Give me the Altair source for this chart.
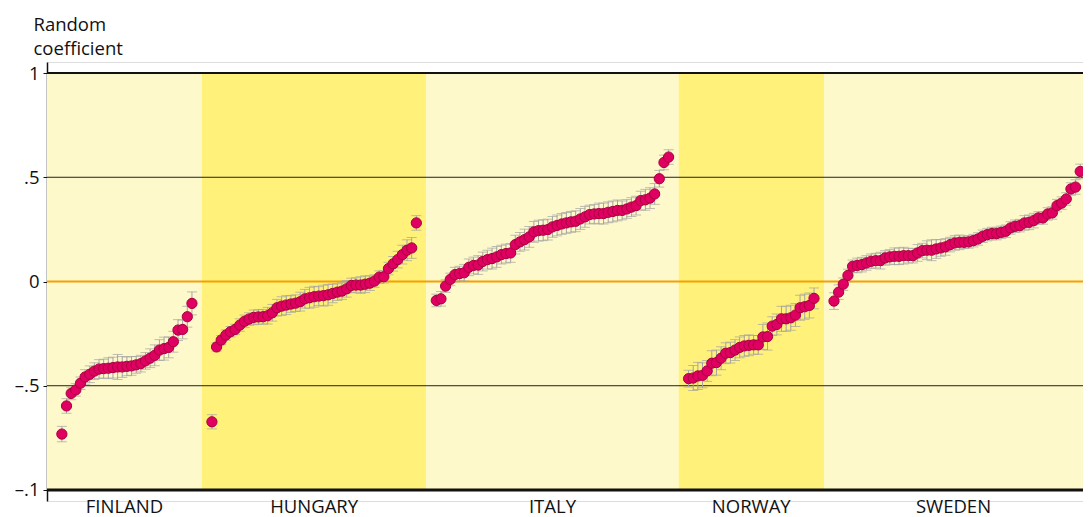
import altair as alt
import pandas as pd

countries = ["FINLAND", "HUNGARY", "ITALY", "NORWAY", "SWEDEN"]
shades = ["light", "dark", "light", "dark", "light"]

finland_est = [-0.732, -0.597, -0.537, -0.52, -0.488, -0.458, -0.445, -0.43, -0.42, -0.418,
               -0.416, -0.413, -0.41, -0.41, -0.407, -0.405, -0.40, -0.394, -0.381, -0.368,
               -0.354, -0.329, -0.322, -0.316, -0.289, -0.233, -0.23, -0.169, -0.105]
finland_err = [0.037, 0.035, 0.03, 0.03, 0.03, 0.035, 0.04, 0.04, 0.045, 0.045,
               0.05, 0.05, 0.06, 0.05, 0.045, 0.045, 0.04, 0.04, 0.04, 0.045,
               0.05, 0.05, 0.055, 0.05, 0.05, 0.05, 0.045, 0.05, 0.055]

hungary_est = [-0.673, -0.314, -0.281, -0.257, -0.241, -0.23, -0.209, -0.191, -0.18, -0.172,
               -0.17, -0.169, -0.164, -0.15, -0.126, -0.118, -0.113, -0.108, -0.104, -0.097,
               -0.083, -0.078, -0.073, -0.070, -0.068, -0.064, -0.057, -0.051, -0.046, -0.035,
               -0.019, -0.017, -0.017, -0.013, -0.008, 0.002, 0.021, 0.023, 0.062, 0.085,
               0.105, 0.129, 0.15, 0.161, 0.281]
hungary_err = [0.034, 0.02, 0.022, 0.025, 0.025, 0.025, 0.03, 0.03, 0.03, 0.035,
               0.035, 0.035, 0.04, 0.04, 0.04, 0.045, 0.045, 0.04, 0.04, 0.045,
               0.045, 0.05, 0.05, 0.045, 0.05, 0.05, 0.045, 0.04, 0.04, 0.04,
               0.035, 0.035, 0.04, 0.04, 0.035, 0.03, 0.03, 0.03, 0.03, 0.035,
               0.04, 0.045, 0.05, 0.05, 0.035]

italy_est = [-0.091, -0.083, -0.022, 0.01, 0.033, 0.038, 0.042, 0.068, 0.077, 0.079,
             0.096, 0.105, 0.11, 0.118, 0.129, 0.134, 0.137, 0.177, 0.19, 0.201,
             0.214, 0.238, 0.244, 0.246, 0.249, 0.262, 0.269, 0.276, 0.281, 0.286,
             0.289, 0.30, 0.31, 0.321, 0.324, 0.326, 0.326, 0.332, 0.336, 0.341,
             0.341, 0.348, 0.357, 0.364, 0.388, 0.392, 0.40, 0.42, 0.493, 0.571, 0.597]
italy_err = [0.03, 0.035, 0.03, 0.03, 0.035, 0.035, 0.04, 0.04, 0.04, 0.045,
             0.045, 0.045, 0.05, 0.05, 0.045, 0.045, 0.045, 0.045, 0.045, 0.05,
             0.05, 0.05, 0.05, 0.05, 0.05, 0.05, 0.05, 0.05, 0.05, 0.05,
             0.05, 0.05, 0.05, 0.045, 0.045, 0.05, 0.05, 0.05, 0.05, 0.05,
             0.045, 0.045, 0.045, 0.045, 0.045, 0.05, 0.05, 0.05, 0.04, 0.035, 0.035]

norway_est = [-0.466, -0.463, -0.453, -0.45, -0.429, -0.392, -0.389, -0.368, -0.344, -0.341,
              -0.329, -0.316, -0.309, -0.306, -0.304, -0.304, -0.266, -0.264, -0.214, -0.206,
              -0.179, -0.179, -0.174, -0.161, -0.126, -0.121, -0.115, -0.081]
norway_err = [0.04, 0.06, 0.065, 0.06, 0.05, 0.06, 0.06, 0.055, 0.05, 0.05,
              0.05, 0.05, 0.05, 0.05, 0.045, 0.045, 0.06, 0.065, 0.045, 0.05,
              0.06, 0.06, 0.06, 0.055, 0.06, 0.06, 0.06, 0.05]

sweden_est = [-0.094, -0.051, -0.013, 0.029, 0.073, 0.077, 0.081, 0.089, 0.097, 0.10,
              0.10, 0.113, 0.118, 0.121, 0.121, 0.124, 0.124, 0.124, 0.137, 0.148,
              0.15, 0.15, 0.156, 0.161, 0.166, 0.177, 0.185, 0.188, 0.188, 0.19,
              0.196, 0.204, 0.217, 0.225, 0.23, 0.23, 0.236, 0.241, 0.257, 0.265,
              0.268, 0.281, 0.284, 0.292, 0.305, 0.305, 0.324, 0.329, 0.364, 0.376,
              0.396, 0.444, 0.453, 0.528]
sweden_err = [0.04, 0.035, 0.03, 0.03, 0.03, 0.035, 0.035, 0.035, 0.035, 0.035,
              0.04, 0.035, 0.035, 0.04, 0.04, 0.04, 0.035, 0.035, 0.04, 0.035,
              0.045, 0.05, 0.045, 0.04, 0.04, 0.035, 0.035, 0.035, 0.03, 0.03,
              0.03, 0.03, 0.03, 0.03, 0.03, 0.03, 0.03, 0.03, 0.03, 0.03,
              0.03, 0.035, 0.035, 0.035, 0.03, 0.03, 0.03, 0.03, 0.03, 0.03,
              0.03, 0.03, 0.035, 0.035]

y_ticks = [-1, -0.5, 0, 0.5, 1]
y_tick_labels = ["\u2013.1", "\u2013.5", "0", ".5", "1"]

est_lists = [finland_est, hungary_est, italy_est, norway_est, sweden_est]
err_lists = [finland_err, hungary_err, italy_err, norway_err, sweden_err]

GAP = 4.3
LEFT_PAD = 3.2
RIGHT_PAD = 0.6

rows, bands = [], []
pos = 0.0
for c, shade, est, err in zip(countries, shades, est_lists, err_lists):
    start = pos
    for i, (v, e) in enumerate(zip(est, err)):
        rows.append({"country": c, "x": start + i, "est": v, "lo": v - e, "hi": v + e})
    end = start + len(est) - 1
    bands.append({"country": c, "shade": shade, "x0": start - GAP / 2, "x1": end + GAP / 2})
    pos = end + GAP

xmin = -LEFT_PAD
xmax = rows[-1]["x"] + RIGHT_PAD
bands[0]["x0"] = xmin
bands[-1]["x1"] = xmax
for b in bands:
    b["mid"] = (b["x0"] + b["x1"]) / 2

df = pd.DataFrame(rows)
bdf = pd.DataFrame(bands)

label_expr = " : ".join(
    f"datum.value == {v} ? '{l}'" for v, l in zip(y_ticks, y_tick_labels)
) + " : ''"

FONT = "Open Sans"
FS = 18.5
INK = "#111111"

xs = alt.Scale(domain=[xmin, xmax], nice=False, zero=False)
ys = alt.Scale(domain=[-1.053, 1.053], nice=False, zero=False)

band_layer = alt.Chart(bdf).mark_rect().encode(
    x=alt.X("x0:Q", scale=xs, axis=None),
    x2="x1:Q",
    y=alt.datum(-1, scale=ys),
    y2=alt.datum(1),
    color=alt.Color("shade:N", scale=alt.Scale(domain=["light", "dark"], range=["#FEF9CA", "#FFF17A"]), legend=None),
)

label_layer = alt.Chart(bdf).mark_text(
    baseline="alphabetic", dy=23, fontSize=FS, font=FONT, color=INK
).encode(
    x=alt.X("mid:Q", scale=xs, axis=None),
    y=alt.datum(-1, scale=ys),
    text="country:N",
)

half_lines = alt.Chart(pd.DataFrame({"v": [0.5, -0.5]})).mark_rule(color="#222222", strokeWidth=1).encode(
    y=alt.Y("v:Q", scale=ys)
)
top_line = alt.Chart(pd.DataFrame({"v": [1]})).mark_rule(color=INK, strokeWidth=2).encode(
    y=alt.Y("v:Q", scale=ys)
)
bottom_line = alt.Chart(pd.DataFrame({"v": [-1]})).mark_rule(color=INK, strokeWidth=3).encode(
    y=alt.Y("v:Q", scale=ys)
)
zero_line = alt.Chart(pd.DataFrame({"v": [0]})).mark_rule(color="#F5A000", strokeWidth=2).encode(
    y=alt.Y("v:Q", scale=ys)
)

err_rule = alt.Chart(df).mark_rule(color="#A3A3A3", strokeWidth=1).encode(
    x=alt.X("x:Q", scale=xs, axis=None),
    y=alt.Y("lo:Q", scale=ys),
    y2="hi:Q",
)
cap_lo = alt.Chart(df).mark_tick(orient="horizontal", size=10, thickness=1, color="#A3A3A3").encode(
    x=alt.X("x:Q", scale=xs, axis=None),
    y=alt.Y("lo:Q", scale=ys),
)
cap_hi = alt.Chart(df).mark_tick(orient="horizontal", size=10, thickness=1, color="#A3A3A3").encode(
    x=alt.X("x:Q", scale=xs, axis=None),
    y=alt.Y("hi:Q", scale=ys),
)
points = alt.Chart(df).mark_circle(
    size=105, color="#DF0062", opacity=1, stroke="#A8003F", strokeWidth=1
).encode(
    x=alt.X("x:Q", scale=xs, axis=None),
    y=alt.Y(
        "est:Q",
        scale=ys,
        axis=alt.Axis(
            values=y_ticks,
            labelExpr=label_expr,
            title=["Random", "coefficient"],
            titleAngle=0,
            titleAlign="left",
            titleBaseline="top",
            titleX=-14,
            titleY=-47,
            titleLineHeight=24.5,
            titleFont=FONT,
            titleFontSize=FS,
            titleFontWeight="normal",
            titleColor=INK,
            labelFont=FONT,
            labelFontSize=FS,
            labelColor=INK,
            labelPadding=4,
            ticks=True,
            tickSize=4,
            tickColor=INK,
            tickWidth=1,
            grid=False,
            domainColor=INK,
            domainWidth=1.5,
        ),
    ),
)

chart = alt.layer(
    band_layer, half_lines, zero_line, top_line, bottom_line,
    err_rule, cap_lo, cap_hi, points, label_layer,
).properties(
    width=1036,
    height=439,
    padding={"left": 39, "top": 54, "right": 0, "bottom": 16},
    autosize=alt.AutoSizeParams(type="none"),
).configure_view(stroke=None).configure(background="white")

chart.save("out.html", embed_options={"renderer": "svg", "actions": False})
